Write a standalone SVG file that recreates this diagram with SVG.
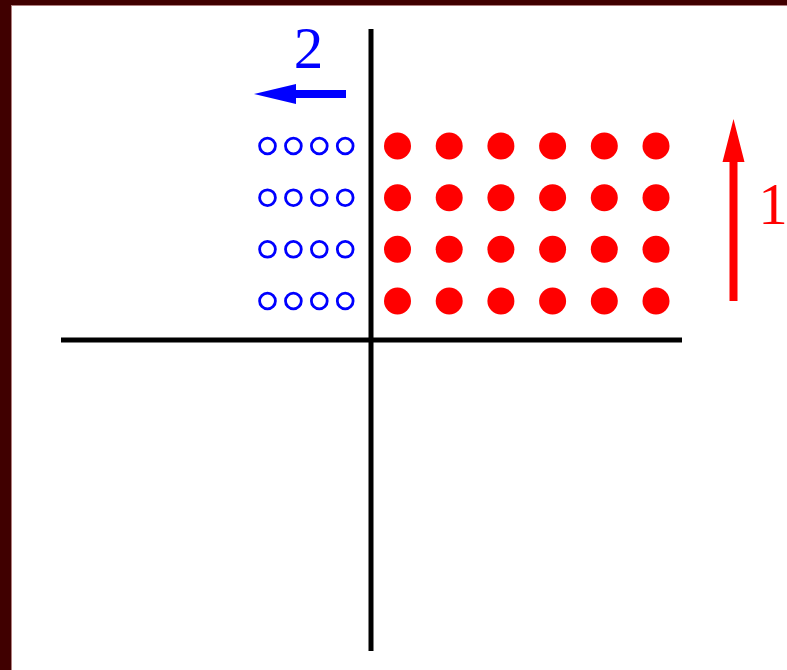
<svg xmlns="http://www.w3.org/2000/svg" width="787" height="670" viewBox="0 0 787 670">
<style>
.dot{fill:#ff0000}
.ring{fill:none;stroke:#0000ff;stroke-width:2.8}
.axis{stroke:#000;stroke-width:5;fill:none}
.lbl{font-family:"Liberation Serif","Times New Roman",serif;font-size:59px;text-anchor:middle}
</style>
<rect x="0" y="0" width="787" height="670" fill="#400000"/>
<rect x="11" y="5" width="776" height="665" fill="#b08080"/>
<rect x="12" y="6" width="775" height="664" fill="#ffffff"/>
<g id="connectors">
<line class="axis" x1="371" y1="29" x2="371" y2="651"/>
<line class="axis" x1="61" y1="340" x2="682" y2="340"/>
<path d="M346 90 L296 90 L296 84 L254 94 L296 104 L296 98 L346 98 Z" fill="#0000ff"/>
<path d="M729.5 301 L729.5 162 L722.5 162 L733.5 119 L744.5 162 L737.5 162 L737.5 301 Z" fill="#ff0000"/>
</g>
<g id="label-2"><text class="lbl" x="308.5" y="68" fill="#0000ff">2</text></g>
<g id="label-1"><text class="lbl" x="773" y="224" fill="#ff0000">1</text></g>
<g id="red-dots">
<g id="r1">
<circle class="dot" cx="397.5" cy="146" r="13.5"/><circle class="dot" cx="449.2" cy="146" r="13.5"/><circle class="dot" cx="500.9" cy="146" r="13.5"/><circle class="dot" cx="552.6" cy="146" r="13.5"/><circle class="dot" cx="604.3" cy="146" r="13.5"/><circle class="dot" cx="656" cy="146" r="13.5"/>
</g>
<g id="r2">
<circle class="dot" cx="397.5" cy="197.7" r="13.5"/><circle class="dot" cx="449.2" cy="197.7" r="13.5"/><circle class="dot" cx="500.9" cy="197.7" r="13.5"/><circle class="dot" cx="552.6" cy="197.7" r="13.5"/><circle class="dot" cx="604.3" cy="197.7" r="13.5"/><circle class="dot" cx="656" cy="197.7" r="13.5"/>
</g>
<g id="r3">
<circle class="dot" cx="397.5" cy="249.3" r="13.5"/><circle class="dot" cx="449.2" cy="249.3" r="13.5"/><circle class="dot" cx="500.9" cy="249.3" r="13.5"/><circle class="dot" cx="552.6" cy="249.3" r="13.5"/><circle class="dot" cx="604.3" cy="249.3" r="13.5"/><circle class="dot" cx="656" cy="249.3" r="13.5"/>
</g>
<g id="r4">
<circle class="dot" cx="397.5" cy="301" r="13.5"/><circle class="dot" cx="449.2" cy="301" r="13.5"/><circle class="dot" cx="500.9" cy="301" r="13.5"/><circle class="dot" cx="552.6" cy="301" r="13.5"/><circle class="dot" cx="604.3" cy="301" r="13.5"/><circle class="dot" cx="656" cy="301" r="13.5"/>
</g>
</g>
<g id="blue-rings">
<g id="b1">
<circle class="ring" cx="267.5" cy="146" r="7.9"/><circle class="ring" cx="293.4" cy="146" r="7.9"/><circle class="ring" cx="319.3" cy="146" r="7.9"/><circle class="ring" cx="345.2" cy="146" r="7.9"/>
</g>
<g id="b2">
<circle class="ring" cx="267.5" cy="197.7" r="7.9"/><circle class="ring" cx="293.4" cy="197.7" r="7.9"/><circle class="ring" cx="319.3" cy="197.7" r="7.9"/><circle class="ring" cx="345.2" cy="197.7" r="7.9"/>
</g>
<g id="b3">
<circle class="ring" cx="267.5" cy="249.3" r="7.9"/><circle class="ring" cx="293.4" cy="249.3" r="7.9"/><circle class="ring" cx="319.3" cy="249.3" r="7.9"/><circle class="ring" cx="345.2" cy="249.3" r="7.9"/>
</g>
<g id="b4">
<circle class="ring" cx="267.5" cy="301" r="7.9"/><circle class="ring" cx="293.4" cy="301" r="7.9"/><circle class="ring" cx="319.3" cy="301" r="7.9"/><circle class="ring" cx="345.2" cy="301" r="7.9"/>
</g>
</g>
</svg>
